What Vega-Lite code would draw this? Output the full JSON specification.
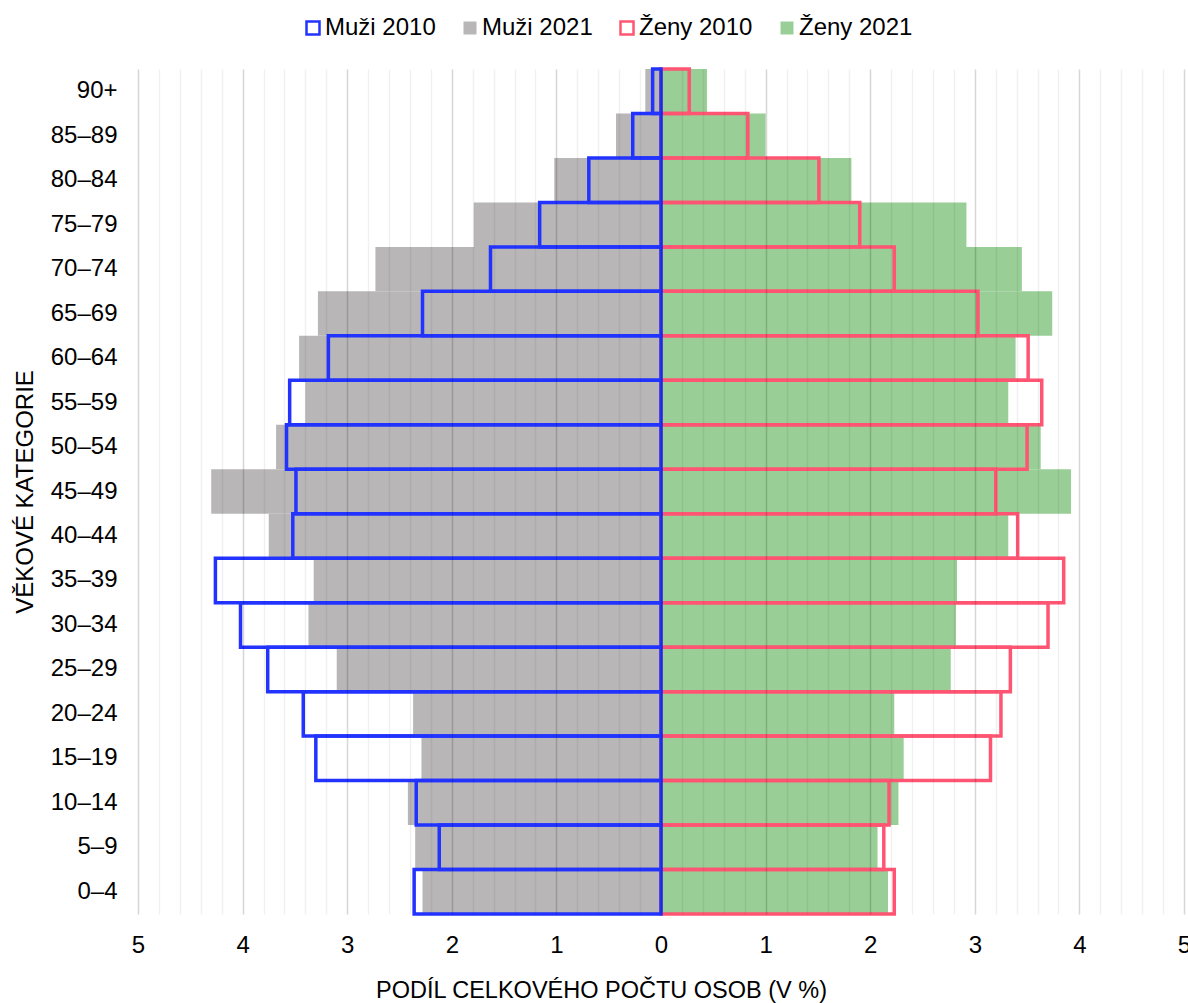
{
  "$schema": "https://vega.github.io/schema/vega-lite/v6.json",
  "autosize": {"type": "none"},
  "width": 1046,
  "height": 845,
  "padding": {"left": 138, "top": 69, "right": 4, "bottom": 89},
  "background": "white",
  "config": {"font": "Liberation Sans", "view": {"stroke": null}},
  "data": {"values": [
    {"age": "90+", "series": "Muži 2021", "value": -0.15},
    {"age": "85–89", "series": "Muži 2021", "value": -0.43},
    {"age": "80–84", "series": "Muži 2021", "value": -1.02},
    {"age": "75–79", "series": "Muži 2021", "value": -1.79},
    {"age": "70–74", "series": "Muži 2021", "value": -2.73},
    {"age": "65–69", "series": "Muži 2021", "value": -3.28},
    {"age": "60–64", "series": "Muži 2021", "value": -3.46},
    {"age": "55–59", "series": "Muži 2021", "value": -3.40},
    {"age": "50–54", "series": "Muži 2021", "value": -3.68},
    {"age": "45–49", "series": "Muži 2021", "value": -4.30},
    {"age": "40–44", "series": "Muži 2021", "value": -3.75},
    {"age": "35–39", "series": "Muži 2021", "value": -3.32},
    {"age": "30–34", "series": "Muži 2021", "value": -3.37},
    {"age": "25–29", "series": "Muži 2021", "value": -3.10},
    {"age": "20–24", "series": "Muži 2021", "value": -2.37},
    {"age": "15–19", "series": "Muži 2021", "value": -2.29},
    {"age": "10–14", "series": "Muži 2021", "value": -2.42},
    {"age": "5–9", "series": "Muži 2021", "value": -2.35},
    {"age": "0–4", "series": "Muži 2021", "value": -2.28},
    {"age": "90+", "series": "Ženy 2021", "value": 0.44},
    {"age": "85–89", "series": "Ženy 2021", "value": 1.00},
    {"age": "80–84", "series": "Ženy 2021", "value": 1.82},
    {"age": "75–79", "series": "Ženy 2021", "value": 2.92},
    {"age": "70–74", "series": "Ženy 2021", "value": 3.45},
    {"age": "65–69", "series": "Ženy 2021", "value": 3.74},
    {"age": "60–64", "series": "Ženy 2021", "value": 3.39},
    {"age": "55–59", "series": "Ženy 2021", "value": 3.32},
    {"age": "50–54", "series": "Ženy 2021", "value": 3.63},
    {"age": "45–49", "series": "Ženy 2021", "value": 3.92},
    {"age": "40–44", "series": "Ženy 2021", "value": 3.32},
    {"age": "35–39", "series": "Ženy 2021", "value": 2.83},
    {"age": "30–34", "series": "Ženy 2021", "value": 2.82},
    {"age": "25–29", "series": "Ženy 2021", "value": 2.77},
    {"age": "20–24", "series": "Ženy 2021", "value": 2.23},
    {"age": "15–19", "series": "Ženy 2021", "value": 2.32},
    {"age": "10–14", "series": "Ženy 2021", "value": 2.27},
    {"age": "5–9", "series": "Ženy 2021", "value": 2.07},
    {"age": "0–4", "series": "Ženy 2021", "value": 2.17},
    {"age": "90+", "series": "Muži 2010", "value": -0.08},
    {"age": "85–89", "series": "Muži 2010", "value": -0.27},
    {"age": "80–84", "series": "Muži 2010", "value": -0.69},
    {"age": "75–79", "series": "Muži 2010", "value": -1.16},
    {"age": "70–74", "series": "Muži 2010", "value": -1.63},
    {"age": "65–69", "series": "Muži 2010", "value": -2.28},
    {"age": "60–64", "series": "Muži 2010", "value": -3.18},
    {"age": "55–59", "series": "Muži 2010", "value": -3.55},
    {"age": "50–54", "series": "Muži 2010", "value": -3.58},
    {"age": "45–49", "series": "Muži 2010", "value": -3.49},
    {"age": "40–44", "series": "Muži 2010", "value": -3.52},
    {"age": "35–39", "series": "Muži 2010", "value": -4.26},
    {"age": "30–34", "series": "Muži 2010", "value": -4.02},
    {"age": "25–29", "series": "Muži 2010", "value": -3.76},
    {"age": "20–24", "series": "Muži 2010", "value": -3.42},
    {"age": "15–19", "series": "Muži 2010", "value": -3.30},
    {"age": "10–14", "series": "Muži 2010", "value": -2.34},
    {"age": "5–9", "series": "Muži 2010", "value": -2.12},
    {"age": "0–4", "series": "Muži 2010", "value": -2.36},
    {"age": "90+", "series": "Ženy 2010", "value": 0.27},
    {"age": "85–89", "series": "Ženy 2010", "value": 0.83},
    {"age": "80–84", "series": "Ženy 2010", "value": 1.51},
    {"age": "75–79", "series": "Ženy 2010", "value": 1.90},
    {"age": "70–74", "series": "Ženy 2010", "value": 2.23},
    {"age": "65–69", "series": "Ženy 2010", "value": 3.03},
    {"age": "60–64", "series": "Ženy 2010", "value": 3.51},
    {"age": "55–59", "series": "Ženy 2010", "value": 3.64},
    {"age": "50–54", "series": "Ženy 2010", "value": 3.50},
    {"age": "45–49", "series": "Ženy 2010", "value": 3.20},
    {"age": "40–44", "series": "Ženy 2010", "value": 3.41},
    {"age": "35–39", "series": "Ženy 2010", "value": 3.85},
    {"age": "30–34", "series": "Ženy 2010", "value": 3.70},
    {"age": "25–29", "series": "Ženy 2010", "value": 3.34},
    {"age": "20–24", "series": "Ženy 2010", "value": 3.25},
    {"age": "15–19", "series": "Ženy 2010", "value": 3.15},
    {"age": "10–14", "series": "Ženy 2010", "value": 2.18},
    {"age": "5–9", "series": "Ženy 2010", "value": 2.13},
    {"age": "0–4", "series": "Ženy 2010", "value": 2.23}
  ]},
  "encoding": {
    "y": {
      "field": "age", "type": "nominal",
      "sort": ["90+", "85–89", "80–84", "75–79", "70–74", "65–69", "60–64", "55–59", "50–54", "45–49", "40–44", "35–39", "30–34", "25–29", "20–24", "15–19", "10–14", "5–9", "0–4"],
      "scale": {"paddingInner": 0, "paddingOuter": 0},
      "axis": {"title": "VĚKOVÉ KATEGORIE", "grid": false, "ticks": false, "domain": false, "labelPadding": 21, "labelFontSize": 24, "labelColor": "#000", "titleFontSize": 24, "titleFontWeight": "normal", "titleColor": "#000", "titlePadding": 13}
    },
    "x": {
      "field": "value", "type": "quantitative", "stack": null,
      "scale": {"domain": [-5, 5], "nice": false, "zero": false},
      "axis": {
        "title": "PODÍL CELKOVÉHO POČTU OSOB (V %)",
        "values": [-5, -4.8, -4.6, -4.4, -4.2, -4, -3.8, -3.6, -3.4, -3.2, -3, -2.8, -2.6, -2.4, -2.2, -2, -1.8, -1.6, -1.4, -1.2, -1, -0.8, -0.6, -0.4, -0.2, 0, 0.2, 0.4, 0.6, 0.8, 1, 1.2, 1.4, 1.6, 1.8, 2, 2.2, 2.4, 2.6, 2.8, 3, 3.2, 3.4, 3.6, 3.8, 4, 4.2, 4.4, 4.6, 4.8, 5],
        "grid": true,
        "gridColor": {"condition": {"test": "abs(datum.value - round(datum.value)) < 0.001", "value": "rgba(0,0,0,0.16)"}, "value": "rgba(0,0,0,0.06)"},
        "gridWidth": 1.5,
        "ticks": false, "domain": false,
        "labelExpr": "abs(datum.value - round(datum.value)) < 0.001 ? format(abs(datum.value), 'd') : ''",
        "labelFontSize": 24, "labelColor": "#000", "labelPadding": 19, "labelFlush": false, "labelOverlap": false,
        "titleFontSize": 23.5, "titleFontWeight": "normal", "titleColor": "#000", "titlePadding": 21,
        "titleX": 463, "titleAlign": "center",
        "zindex": 1
      }
    }
  },
  "layer": [
    {
      "transform": [{"filter": {"field": "series", "oneOf": ["Muži 2021", "Ženy 2021"]}}],
      "mark": {"type": "bar"},
      "encoding": {
        "fill": {
          "field": "series", "type": "nominal",
          "scale": {"domain": ["Muži 2010", "Muži 2021", "Ženy 2010", "Ženy 2021"], "range": ["#ffffff", "#b8b6b7", "#ffffff", "#99ce96"]},
          "legend": {
            "orient": "none", "legendX": 163, "legendY": -53, "direction": "horizontal", "title": null,
            "symbolType": "square", "symbolSize": 169, "symbolOpacity": 1,
            "labelFontSize": 24, "labelColor": "#000", "labelOffset": 0, "columnPadding": 22,
            "encoding": {"symbols": {
              "stroke": {"condition": [{"test": "datum.value === 'Muži 2010'", "value": "#2233ff"}, {"test": "datum.value === 'Ženy 2010'", "value": "#ff5573"}], "value": "transparent"},
              "strokeWidth": {"value": 2.5}
            }}
          }
        }
      }
    },
    {
      "transform": [{"filter": {"field": "series", "equal": "Ženy 2010"}}],
      "mark": {"type": "bar", "filled": false, "stroke": "#ff5573", "strokeWidth": 3.5}
    },
    {
      "transform": [{"filter": {"field": "series", "equal": "Muži 2010"}}],
      "mark": {"type": "bar", "filled": false, "stroke": "#2233ff", "strokeWidth": 3.5}
    }
  ]
}
